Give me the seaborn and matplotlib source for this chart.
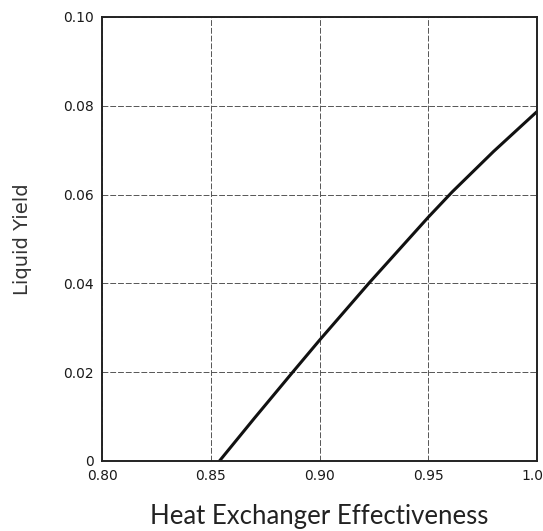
import matplotlib
matplotlib.use("Agg")
import matplotlib.pyplot as plt
import matplotlib.transforms as mtransforms
import pandas as pd
import seaborn as sns

# values
effectiveness = [0.854, 0.870, 0.888, 0.900, 0.923, 0.950, 0.961, 0.980, 1.000]
liquid_yield = [0.000, 0.0096, 0.0202, 0.0272, 0.0402, 0.0549, 0.0606, 0.0697, 0.0787]

x_ticks = [0.80, 0.85, 0.90, 0.95, 1.00]
x_tick_labels = ["0.80", "0.85", "0.90", "0.95", "1.0"]
y_ticks = [0, 0.02, 0.04, 0.06, 0.08, 0.10]
y_tick_labels = ["0", "0.02", "0.04", "0.06", "0.08", "0.10"]

df = pd.DataFrame({"eff": effectiveness, "yield": liquid_yield})

sns.set_style("white")
plt.rcParams["font.family"] = ["DejaVu Sans"]

fig = plt.figure(figsize=(5.43, 5.31), dpi=100)
ax = fig.add_axes([0.188, 0.132, 0.801, 0.836])

sns.lineplot(x="eff", y="yield", data=df, color="#111111", linewidth=2.2, ax=ax)

ax.set_xlim(0.80, 1.00)
ax.set_ylim(0, 0.10)
ax.set_xticks(x_ticks)
ax.set_xticklabels(x_tick_labels, fontsize=10, color="#1a1a1a")
ax.set_yticks(y_ticks)
ax.set_yticklabels(y_tick_labels, fontsize=10, color="#1a1a1a")
ax.tick_params(direction="in", length=3, width=0.8, colors="#333333", labelcolor="#1a1a1a", pad=6)

# last label sits right at the edge, nudge it in a bit
last = ax.get_xticklabels()[-1]
last.set_transform(last.get_transform() + mtransforms.ScaledTranslation(-5 / 100, 0, fig.dpi_scale_trans))

ax.grid(True, linestyle=(0, (6, 2)), color="#555555", linewidth=0.7)
for s in ax.spines.values():
    s.set_color("#222222")
    s.set_linewidth(1.4)

ax.set_xlabel("Heat Exchanger Effectiveness", fontsize=18.5, family="Lato", color="#222222", labelpad=15)
ax.set_ylabel("Liquid Yield", fontsize=14, family="DejaVu Sans", color="#333333", labelpad=22)

fig.savefig("out.png", dpi=100)
